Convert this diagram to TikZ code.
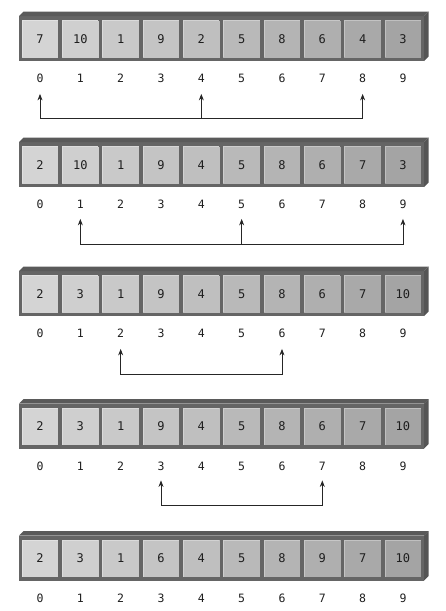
\documentclass[tikz,border=0pt]{standalone}
\usepackage{fontspec}
\setmonofont{DejaVu Sans Mono}
\usetikzlibrary{arrows.meta,calc}
\definecolor{framefront}{HTML}{656565}
\definecolor{frametop}{HTML}{5A5A5A}
\definecolor{frameside}{HTML}{555555}
\definecolor{cellL}{HTML}{D4D4D4}
\definecolor{cellR}{HTML}{A4A4A4}
\definecolor{txt}{HTML}{1E1E1E}
\tikzset{
  cellbox/.style={minimum width=36.5pt,minimum height=37pt,inner sep=0pt,
    font=\ttfamily\fontsize{12}{14}\selectfont,text=txt,text height=8.7pt,text depth=0pt},
  idxlabel/.style={inner sep=0pt,font=\ttfamily\fontsize{11.5}{14}\selectfont,text=txt,text height=8.4pt,text depth=0pt},
  swaparrow/.style={draw=black!85,line width=0.85pt,>={Stealth[length=6.5pt,width=5pt]}},
}
\newcommand{\arrayrow}[3]{% #1 name, #2 center y, #3 values
  \fill[framefront] (19,#2-23) rectangle (424,#2+22);
  \fill[frametop] (19,#2-23) -- (23.5,#2-27.5) -- (428.5,#2-27.5) -- (424,#2-23) -- cycle;
  \fill[frameside] (424,#2-23) -- (428.5,#2-27.5) -- (428.5,#2+17.5) -- (424,#2+22) -- cycle;
  \foreach \v [count=\k from 0] in {#3} {
    \pgfmathsetmacro{\pct}{100-\k*100/9}
    \colorlet{cc}{cellL!\pct!cellR}
    \node[cellbox,fill=cc] (c#1-\k) at (40+40.33*\k,#2) {\v};
    \draw[white!30!cc,line width=0.8pt] ([xshift=0.4pt,yshift=0.4pt]c#1-\k.south west) |- ([xshift=-0.4pt,yshift=-0.4pt]c#1-\k.north east);
    \node[idxlabel] (l#1-\k) at (40+40.33*\k,#2+39.5) {\k};
  }
}
\begin{document}
\begin{tikzpicture}[x=1pt,y=-1pt]
\useasboundingbox (0,0) rectangle (445,611);
\arrayrow{a}{39}{7,10,1,9,2,5,8,6,4,3}
\arrayrow{b}{165}{2,10,1,9,4,5,8,6,7,3}
\arrayrow{c}{294}{2,3,1,9,4,5,8,6,7,10}
\arrayrow{d}{426.5}{2,3,1,9,4,5,8,6,7,10}
\arrayrow{e}{558.5}{2,3,1,6,4,5,8,9,7,10}
% swap arrows
\coordinate (ha) at (0,118);
\coordinate (hb) at (0,244);
\coordinate (hc) at (0,374);
\coordinate (hd) at (0,505);
\draw[swaparrow,<->]
  ([yshift=-11pt]la-0.south) |- (ha -| la-8) -- ([yshift=-11pt]la-8.south);
\draw[swaparrow,->] (ha -| la-4) -- ([yshift=-11pt]la-4.south);
\draw[swaparrow,<->]
  ([yshift=-10pt]lb-1.south) |- (hb -| lb-9) -- ([yshift=-10pt]lb-9.south);
\draw[swaparrow,->] (hb -| lb-5) -- ([yshift=-10pt]lb-5.south);
\draw[swaparrow,<->]
  ([yshift=-11pt]lc-2.south) |- (hc -| lc-6) -- ([yshift=-11pt]lc-6.south);
\draw[swaparrow,<->]
  ([yshift=-10pt]ld-3.south) |- (hd -| ld-7) -- ([yshift=-10pt]ld-7.south);
\end{tikzpicture}
\end{document}
